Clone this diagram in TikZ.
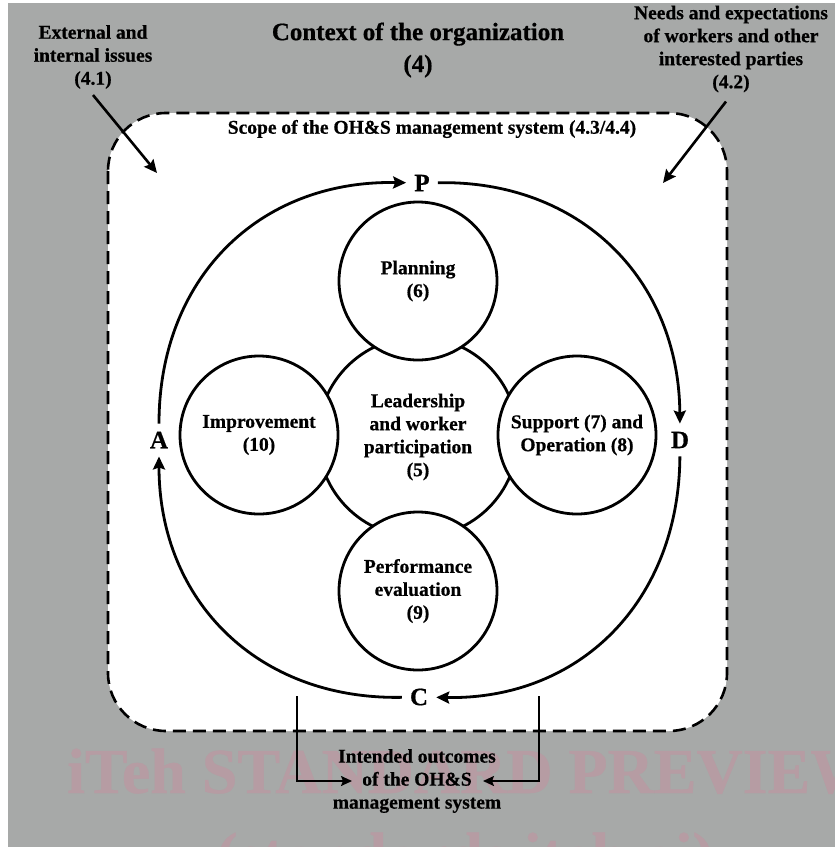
\documentclass[tikz,border=0pt]{standalone}
\usepackage{fontspec}
\setmainfont{Liberation Serif}[BoldFeatures={FakeBold=0.6}]
\usetikzlibrary{arrows.meta}
\definecolor{bggray}{RGB}{167,169,168}
\definecolor{wmark}{RGB}{182,156,163}
\begin{document}
\begin{tikzpicture}[x=1pt,y=-1pt,
  txt/.style={font=\fontsize{19.5}{23}\selectfont\bfseries, align=center, inner sep=0pt},
  titletxt/.style={font=\fontsize{25}{32}\selectfont\bfseries, align=center, inner sep=0pt},
  phase/.style={font=\fontsize{25}{28}\selectfont\bfseries, inner sep=8pt},
  elem/.style={circle, draw, fill=white, line width=2.8pt, minimum size=158pt, inner sep=0pt,
     align=center, font=\fontsize{19.5}{23}\selectfont\bfseries},
  scopebox/.style={draw, fill=white, line width=2.6pt, dash pattern=on 13pt off 7pt, rounded corners=58pt},
  pdca/.style={line width=2.8pt, -{Stealth[length=13pt,width=12pt,inset=2pt]}},
  inarrow/.style={line width=2.6pt, -{Stealth[length=13pt,width=12pt,inset=2pt]}},
  outarrow/.style={line width=1.8pt, -{Stealth[length=11pt,width=10pt,inset=2pt]}},
  wm/.style={font=\fontsize{64}{80}\selectfont\bfseries, text=wmark, inner sep=0pt}
]
\useasboundingbox (0,0) rectangle (835,847);
\clip (0,0) rectangle (835,847);
\fill[white] (0,0) rectangle (835,847);
\fill[bggray] (8,3) rectangle (835,847);

% watermark
\node[wm, anchor=base west] (wm1) at (67,793) {iTeh STANDARD PREVIEW};
\node[wm, anchor=base] (wm2) at (465,877) {(standards.iteh.ai)};

% scope box
\draw[scopebox] (108,113) rectangle (727,731);

% outside texts
\node[titletxt] (title) at (418,50) {Context of the organization\\(4)};
\node[txt] (ext) at (93,57) {External and\\internal issues\\(4.1)};
\node[txt] (needs) at (731,49) {Needs and expectations\\of workers and other\\interested parties\\(4.2)};
\node[txt] (scope) at (432,129) {Scope of the OH\&S management system (4.3/4.4)};

\coordinate (extEnd) at (157,173);
\coordinate (needsEnd) at (663,183);
\draw[inarrow] ([yshift=-6pt]ext.south) -- (extEnd);
\draw[inarrow] ([shift={(-5pt,-9pt)}]needs.south) -- (needsEnd);

% circles
\node[elem, minimum size=200pt] (lead) at (418,437) {Leadership\\and worker\\participation\\(5)};
\node[elem] (plan) at (418,281) {Planning\\(6)};
\node[elem] (impr) at (259,435) {Improvement\\(10)};
\node[elem] (supp) at (577,435) {Support (7) and\\Operation (8)};
\node[elem] (perf) at (418,591) {Performance\\evaluation\\(9)};

% PDCA loop
\node[phase] (P) at (422,183) {P};
\node[phase] (D) at (680,440) {D};
\node[phase] (C) at (419,697) {C};
\node[phase] (A) at (159,440) {A};
\draw[pdca] (A) .. controls (159,279) and (258,180) .. (P);
\draw[pdca] (P) .. controls (580,180) and (679,279) .. (D);
\draw[pdca] (D) .. controls (679,601) and (580,700) .. (C);
\draw[pdca] (C) .. controls (258,700) and (159,601) .. (A);

% intended outcomes
\node[txt] (out) at (417,781) {Intended outcomes\\of the OH\&S\\management system};
\coordinate (cL) at (297,696);
\coordinate (cR) at (539,696);
\coordinate (oL) at (352,781);
\coordinate (oR) at (483,781);
\draw[outarrow] (cL) |- (oL);
\draw[outarrow] (cR) |- (oR);
\end{tikzpicture}
\end{document}
